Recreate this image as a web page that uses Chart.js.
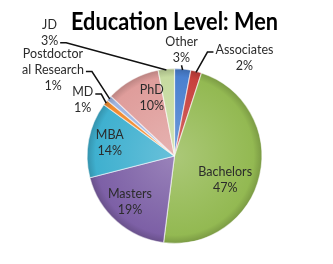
<!DOCTYPE html>
<html>
<head>
<meta charset="utf-8">
<script src="https://cdn.jsdelivr.net/npm/chart.js@4.4.1/dist/chart.umd.min.js"></script>
<style>
  html, body { margin: 0; padding: 0; background: #fff; }
  #wrap { width: 333px; height: 264px; }
</style>
</head>
<body>
<div id="wrap"><canvas id="eduChart"></canvas></div>
<script>
// --- data ---
const categories = ['Other', 'Associates', 'Bachelors', 'Masters', 'MBA', 'MD', 'Postdoctoral Research', 'PhD', 'JD'];
const shares = [3, 2, 47, 19, 14, 1, 1, 10, 3];
// how the names are wrapped on the picture
const labelNames = [['Other'], ['Associates'], ['Bachelors'], ['Masters'], ['MBA'], ['MD'], ['Postdoctor', 'al Research'], ['PhD'], ['JD']];

// Office 2007 palette
const sliceColors = ['#4a80d0', '#c8413d', '#93b952', '#7d60a6', '#3fb0cf', '#f08a2e', '#9fb4e0', '#df9d9b', '#c7dba0'];

// label placement, in pie radii from the centre (x right, y down)
// leader: null = inside label, otherwise which text line / side the line leaves from
const labelSpots = [
    { dx: 0.08, dy: -1.21, leader: { line: 'bottom' } },
    { dx: 0.80, dy: -1.12, leader: { line: 0, side: 'left' } },
    { dx: 0.58, dy: 0.27, leader: null },
    { dx: -0.51, dy: 0.53, leader: null },
    { dx: -0.74, dy: -0.15, leader: null },
    { dx: -1.05, dy: -0.64, leader: { line: 0, side: 'right' } },
    { dx: -1.39, dy: -0.99, leader: { line: 1, side: 'right' } },
    { dx: -0.26, dy: -0.66, leader: null },
    { dx: -1.43, dy: -1.41, leader: { line: 1, side: 'right' } }
];

const labelFont = '12.5px Lato, "DejaVu Sans", sans-serif';
const lineGap = 16;

function shade(hex, amt) {
    // amt > 0 lightens toward white, < 0 darkens toward black
    const n = parseInt(hex.slice(1), 16);
    let r = (n >> 16) & 255, g = (n >> 8) & 255, b = n & 255;
    const t = amt > 0 ? 255 : 0, p = Math.abs(amt);
    r = Math.round(r + (t - r) * p);
    g = Math.round(g + (t - g) * p);
    b = Math.round(b + (t - b) * p);
    return `rgb(${r},${g},${b})`;
}

function sliceFill(context) {
    const chart = context.chart;
    const area = chart.chartArea;
    const base = sliceColors[context.dataIndex];
    if (!area) return base;
    const cx = (area.left + area.right) / 2;
    const cy = (area.top + area.bottom) / 2;
    const r = Math.min(area.right - area.left, area.bottom - area.top) / 2;
    const g = chart.ctx.createRadialGradient(cx, cy, 0, cx, cy, r);
    g.addColorStop(0, shade(base, 0.22));
    g.addColorStop(0.55, shade(base, 0.08));
    g.addColorStop(0.9, base);
    g.addColorStop(1, shade(base, -0.18));
    return g;
}

// --- labels with leader lines ---
const sliceLabels = {
    id: 'sliceLabels',
    afterDatasetsDraw(chart) {
        const ctx = chart.ctx;
        const arcs = chart.getDatasetMeta(0).data;
        ctx.save();
        ctx.font = labelFont;
        ctx.textAlign = 'center';
        ctx.textBaseline = 'middle';
        arcs.forEach((arc, i) => {
            const p = arc.getProps(['x', 'y', 'startAngle', 'endAngle', 'outerRadius'], true);
            const r = p.outerRadius;
            const spot = labelSpots[i];
            const lines = labelNames[i].concat([shares[i] + '%']);
            const tx = p.x + spot.dx * r;
            const ty = p.y + spot.dy * r;
            const top = ty - (lines.length - 1) * lineGap / 2;

            if (spot.leader) {
                const mid = (p.startAngle + p.endAngle) / 2;
                const ex = p.x + Math.cos(mid) * (r - 1);
                const ey = p.y + Math.sin(mid) * (r - 1);
                let sx, sy, kx;
                if (spot.leader.line === 'bottom') {
                    sx = tx; sy = top + (lines.length - 1) * lineGap + 7;
                    kx = sx;
                } else {
                    const ln = lines[spot.leader.line];
                    const w = ctx.measureText(ln).width;
                    sy = top + spot.leader.line * lineGap + 2;
                    if (spot.leader.side === 'right') {
                        sx = tx + w / 2 + 2; kx = sx + 6;
                    } else {
                        sx = tx - w / 2 - 2; kx = sx - 6;
                    }
                }
                ctx.beginPath();
                ctx.moveTo(sx, sy);
                ctx.lineTo(kx, sy);
                ctx.lineTo(ex, ey);
                ctx.strokeStyle = '#111';
                ctx.lineWidth = 1.5;
                ctx.stroke();
            }

            ctx.fillStyle = '#2b2b2b';
            lines.forEach((ln, k) => ctx.fillText(ln, tx, top + k * lineGap));
        });
        ctx.restore();
    }
};

new Chart(document.getElementById('eduChart'), {
    type: 'pie',
    data: {
        labels: categories,
        datasets: [{
            data: shares,
            backgroundColor: sliceFill,
            borderColor: 'rgba(255,255,255,0.55)',
            borderWidth: 1.2
        }]
    },
    options: {
        responsive: true,
        maintainAspectRatio: false,
        animation: false,
        // title box is as wide as the pie box, so the title is squeezed a little like the narrow original face
        layout: { padding: { top: 0, left: 71, right: 55, bottom: 20 } },
        plugins: {
            legend: { display: false },
            tooltip: { enabled: false },
            title: {
                display: true,
                text: 'Education Level: Men',
                color: '#000',
                font: { family: 'Lato, "DejaVu Sans", sans-serif', size: 25, weight: 'bold' },
                padding: { top: 7, bottom: 31 }
            }
        }
    },
    plugins: [sliceLabels]
});
</script>
</body>
</html>
